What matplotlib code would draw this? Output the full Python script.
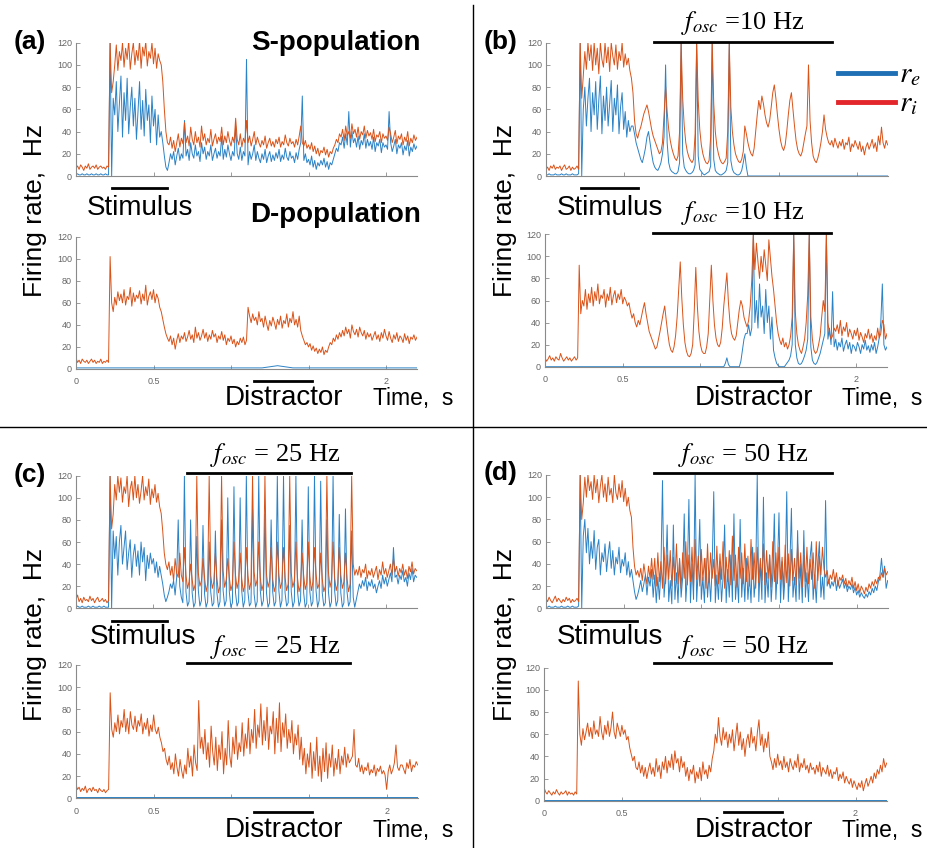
import numpy as np
import matplotlib.pyplot as plt
from matplotlib.lines import Line2D

plt.rcParams['font.family'] = ['Liberation Sans', 'DejaVu Sans']
plt.rcParams['mathtext.fontset'] = 'stix'

# ---- data: firing rates (Hz), sampled every 10 ms from t = 0 ----
DT = 0.01

a_top_re = [1, 2, 1, 1, 2, 1, 1, 2, 1, 1, 2, 1, 1, 2, 1, 1, 2, 1, 1, 2, 1, 1,
            120, 0, 70, 55, 85, 40, 65, 90,
            35, 75, 50, 88, 38, 62, 80, 45, 70, 33,
            58, 85, 42, 68, 36, 78, 50, 64, 30, 72,
            45, 60, 28, 55, 35, 40, 30, 18, 8, 5,
            12, 20, 15, 22, 10, 18, 25, 14, 20, 16,
            50, 18, 24, 14, 30, 20, 16, 28, 18, 22,
            13, 30, 20, 26, 15, 22, 18, 28, 14, 20,
            25, 16, 22, 18, 36, 15, 24, 17, 28, 20,
            14, 22, 18, 45, 20, 15, 26, 14, 22, 18,
            105, 10, 22, 15, 20, 28, 14, 22, 16, 12,
            20, 15, 24, 12, 18, 22, 13, 19, 14, 21,
            16, 24, 13, 19, 15, 25, 17, 14, 22, 16,
            18, 12, 21, 15, 24, 30, 72, 14, 20, 12,
            15, 10, 18, 8, 14, 6, 12, 9, 14, 10,
            16, 8, 13, 6, 12, 10, 15, 20, 25, 22,
            30, 28, 35, 25, 38, 28, 58, 26, 40, 30,
            34, 26, 36, 24, 32, 28, 38, 25, 33, 27,
            31, 24, 35, 22, 30, 27, 33, 21, 30, 26,
            28, 24, 58, 30, 22, 27, 33, 20, 28, 25,
            30, 19, 27, 23, 32, 18, 26, 22, 29, 24, 27]
a_top_ri = [7, 9, 6, 10, 8, 5, 9, 7, 11, 6, 8, 9, 7, 10, 6, 8, 9, 7, 8, 6, 9, 8,
            120, 75, 85, 100, 118, 95, 112, 104,
            120, 98, 115, 105, 122, 96, 110, 120, 100, 113,
            104, 122, 97, 116, 108, 121, 99, 112, 106, 120,
            101, 115, 97, 110, 104, 100, 85, 60, 40, 30,
            28, 35, 25, 32, 22, 30, 38, 26, 34, 29,
            48, 30, 36, 27, 44, 33, 28, 40, 30, 35,
            26, 45, 32, 38, 28, 34, 30, 42, 27, 33,
            38, 29, 35, 31, 44, 28, 36, 30, 40, 32,
            27, 35, 30, 52, 33, 28, 38, 26, 34, 30,
            50, 30, 36, 27, 33, 40, 28, 35, 30, 26,
            32, 28, 36, 25, 30, 34, 27, 31, 26, 33,
            29, 35, 26, 31, 28, 37, 30, 27, 34, 29,
            31, 26, 33, 28, 36, 45, 30, 27, 32, 25,
            28, 24, 30, 22, 27, 20, 25, 18, 23, 21,
            26, 19, 24, 17, 22, 20, 25, 28, 33, 30,
            38, 35, 42, 32, 45, 36, 40, 34, 47, 38,
            42, 35, 44, 33, 40, 37, 45, 34, 41, 36,
            39, 33, 42, 31, 37, 35, 40, 30, 38, 34,
            36, 32, 44, 38, 30, 35, 41, 29, 36, 33,
            38, 28, 35, 31, 40, 27, 34, 30, 37, 32, 35]
a_bot_re = [1, 1, 1, 1, 1, 1, 1, 1, 1, 1, 1, 1, 1, 3, 1, 1, 1, 1, 1, 1, 1, 1, 1]
a_bot_ri = [10, 6, 8, 5, 9, 7, 6, 8, 5, 7, 9, 6, 8, 5, 7, 6, 9, 5, 7, 6, 8, 6,
            102, 60, 52, 65, 58, 70, 62, 68,
            60, 72, 58, 66, 63, 74, 57, 69, 61, 67,
            64, 71, 59, 68, 62, 76, 58, 66, 70, 63,
            72, 60, 68, 64, 56, 52, 45, 38, 32, 28,
            25, 30, 22, 28, 18, 26, 32, 24, 30, 27,
            33, 25, 29, 35, 27, 31, 24, 38, 28, 33,
            26, 30, 36, 28, 33, 25, 31, 27, 35, 29,
            32, 24, 30, 27, 34, 26, 31, 22, 28, 25,
            30, 23, 27, 20, 25, 22, 28, 24, 29, 22,
            26, 56, 48, 42, 50, 44, 47, 40, 52, 43,
            46, 38, 48, 41, 35, 44, 39, 47, 42, 36,
            45, 40, 48, 37, 44, 41, 50, 38, 46, 42,
            52, 40, 45, 38, 48, 35, 30, 26, 22, 24,
            20, 23, 17, 21, 16, 19, 14, 18, 15, 20,
            13, 17, 15, 20, 24, 22, 28, 25, 31, 27,
            33, 29, 35, 30, 38, 32, 36, 28, 40, 34,
            31, 36, 29, 38, 33, 30, 35, 27, 33, 29,
            32, 26, 30, 34, 27, 31, 25, 33, 28, 36,
            30, 26, 34, 28, 24, 31, 27, 33, 25, 30,
            28, 24, 32, 26, 30, 23, 29, 27, 31, 26, 29]

b_top_re = [1, 1, 2, 1, 1, 1, 2, 1, 1, 1, 2, 1, 1, 2, 1, 1, 1, 2, 1, 1, 1, 2,
            120, 0, 60, 80, 45, 70, 88, 40,
            75, 55, 85, 42, 68, 90, 38, 72, 50, 80,
            45, 65, 86, 40, 70, 55, 82, 38, 62, 75,
            42, 58, 35, 50, 40, 45, 45, 38, 30, 25,
            20, 15, 12, 18, 25, 35, 40, 30, 20, 12,
            8, 6, 5, 8, 12, 20, 35, 100, 30, 12,
            6, 4, 3, 2, 2, 4, 12, 120, 20, 8,
            5, 3, 2, 2, 3, 5, 10, 120, 18, 6,
            4, 2, 1, 2, 3, 4, 9, 120, 15, 5,
            3, 2, 1, 1, 2, 3, 5, 12, 120, 14,
            6, 3, 2, 1, 1, 2, 5, 12, 20, 8,
            0, 0, 0, 0, 0, 0, 0, 0, 0, 0,
            0, 0, 0, 0, 0, 0, 0, 0, 0, 0,
            0, 0, 0, 0, 0, 0, 0, 0, 0, 0,
            0, 0, 0, 0, 0, 0, 0, 0, 0, 0,
            0, 0, 0, 0, 0, 0, 0, 0, 0, 0,
            0, 0, 0, 0, 0, 0, 0, 0, 0, 0,
            0, 0, 0, 0, 0, 0, 0, 0, 0, 0,
            0, 0, 0, 0, 0, 0, 0, 0, 0, 0,
            0, 0, 0, 0, 0, 0, 0, 0, 0, 0, 0]
b_top_ri = [6, 8, 5, 9, 7, 10, 6, 8, 7, 9, 5, 8, 10, 6, 7, 9, 5, 8, 6, 7, 9, 6,
            120, 70, 90, 112, 96, 120, 104, 118,
            95, 120, 100, 115, 92, 120, 105, 98, 120, 102,
            116, 94, 120, 108, 100, 118, 96, 112, 104, 120,
            98, 110, 100, 106, 95, 88, 75, 50, 38, 34,
            40, 44, 50, 56, 60, 64, 58, 50, 42, 36,
            32, 28, 24, 20, 22, 30, 55, 80, 58, 42,
            32, 25, 20, 16, 14, 18, 40, 120, 70, 45,
            30, 22, 17, 14, 12, 15, 38, 120, 68, 42,
            28, 20, 15, 12, 11, 14, 35, 120, 65, 40,
            27, 20, 15, 12, 11, 13, 16, 40, 120, 62,
            40, 28, 20, 16, 13, 12, 15, 22, 45, 38,
            30, 24, 20, 18, 25, 40, 55, 68, 60, 72,
            65, 55, 48, 44, 50, 62, 75, 82, 70, 55,
            42, 32, 26, 23, 28, 40, 55, 68, 75, 60,
            45, 32, 24, 20, 18, 22, 30, 38, 45, 100,
            50, 30, 18, 14, 12, 16, 22, 30, 40, 55,
            42, 35, 30, 28, 32, 26, 34, 29, 25, 31,
            27, 33, 24, 30, 28, 35, 22, 29, 26, 32,
            28, 24, 31, 22, 27, 19, 26, 30, 24, 28,
            33, 25, 30, 22, 36, 28, 44, 30, 25, 32, 28]
b_bot_re = [0, 0, 0, 0, 0, 0, 0, 0, 0, 0,
            0, 0, 0, 0, 0, 0, 0, 0, 0, 0,
            0, 0, 0, 0, 0, 0, 0, 0, 0, 0,
            0, 0, 0, 0, 0, 0, 0, 0, 0, 0,
            0, 0, 0, 0, 0, 0, 0, 0, 0, 0,
            0, 0, 0, 0, 0, 0, 0, 0, 0, 0,
            0, 0, 0, 0, 0, 0, 0, 0, 0, 0,
            0, 0, 0, 0, 0, 0, 0, 0, 0, 0,
            0, 0, 0, 0, 0, 0, 0, 0, 0, 0,
            0, 0, 0, 0, 0, 0, 0, 0, 0, 0,
            0, 0, 0, 0, 0, 0, 0, 0, 0, 0,
            0, 0, 0, 0, 0, 0, 3, 8, 2, 0,
            0, 0, 0, 0, 0, 0, 5, 15, 25, 30,
            30, 38, 28, 35, 120, 40, 60, 35, 75, 45,
            55, 30, 70, 40, 55, 25, 45, 15, 8, 3,
            1, 0, 0, 0, 0, 2, 4, 6, 10, 20,
            120, 20, 8, 3, 2, 3, 6, 10, 15, 25,
            120, 18, 6, 3, 2, 4, 8, 12, 18, 24,
            30, 120, 25, 35, 20, 68, 18, 25, 15, 22,
            18, 26, 14, 20, 24, 16, 22, 12, 20, 18,
            14, 22, 18, 12, 20, 16, 24, 15, 19, 13,
            20, 15, 22, 12, 18, 26, 40, 75, 20, 15, 18]
b_bot_ri = [8, 5, 7, 10, 6, 8, 5, 9, 7, 6, 12, 8, 5, 7, 9, 6, 8, 5, 7, 9, 6, 8,
            92, 48, 60, 55, 70, 52, 66, 58,
            72, 55, 68, 60, 75, 57, 65, 62, 70, 54,
            66, 60, 72, 56, 64, 69, 58, 66, 61, 70,
            57, 63, 60, 55, 58, 50, 44, 48, 40, 36,
            42, 38, 45, 52, 58, 48, 40, 32, 28, 24,
            20, 16, 18, 25, 32, 40, 48, 55, 42, 30,
            20, 15, 13, 18, 28, 45, 70, 95, 62, 38,
            22, 14, 10, 9, 12, 20, 50, 90, 55, 32,
            20, 14, 12, 12, 18, 30, 60, 92, 60, 38,
            26, 20, 18, 22, 35, 55, 70, 85, 58, 40,
            30, 26, 24, 28, 40, 52, 60, 55, 45, 40,
            36, 42, 55, 78, 120, 88, 112, 95, 80, 100,
            86, 106, 92, 78, 115, 98, 82, 70, 55, 40,
            30, 24, 20, 26, 18, 22, 16, 20, 28, 45,
            120, 50, 30, 20, 15, 12, 18, 25, 40, 65,
            120, 45, 25, 15, 12, 14, 20, 28, 45, 60,
            50, 120, 40, 30, 25, 28, 35, 32, 38, 30,
            42, 28, 36, 32, 40, 27, 34, 30, 25, 33,
            28, 35, 24, 31, 27, 22, 30, 26, 34, 25,
            30, 22, 28, 24, 35, 26, 30, 42, 38, 25, 30]

c_top_re = [1, 2, 1, 1, 2, 1, 1, 1, 2, 1, 1, 2, 1, 1, 1, 2, 1, 1, 2, 1, 1, 1,
            120, 0, 70, 45, 65, 30, 60, 75,
            40, 55, 70, 35, 50, 62, 28, 48, 58, 38,
            52, 30, 60, 42, 55, 25, 48, 36, 50, 40,
            45, 32, 42, 28, 38, 30, 22, 12, 6, 10,
            15, 22, 18, 25, 12, 28, 80, 20, 10, 5,
            120, 15, 2, 6, 80, 14, 1, 5, 65, 16,
            2, 7, 75, 13, 1, 6, 60, 15, 2, 5,
            70, 14, 1, 6, 80, 16, 2, 7, 100, 15,
            1, 5, 110, 14, 2, 6, 100, 16, 1, 7,
            120, 15, 2, 5, 90, 13, 1, 6, 120, 16,
            2, 7, 85, 14, 1, 5, 80, 15, 2, 6,
            120, 16, 1, 7, 120, 14, 2, 5, 75, 15,
            1, 6, 120, 16, 2, 7, 80, 14, 1, 5,
            110, 15, 2, 6, 120, 16, 1, 7, 115, 14,
            2, 5, 80, 15, 1, 6, 120, 16, 2, 7,
            85, 14, 1, 5, 90, 15, 2, 6, 70, 10,
            1, 8, 15, 22, 18, 25, 20, 28, 16, 24,
            20, 26, 18, 22, 14, 20, 25, 18, 30, 22,
            28, 20, 26, 32, 24, 55, 28, 30, 22, 30,
            26, 34, 24, 28, 20, 32, 26, 36, 24, 30, 28]
c_top_ri = [8, 12, 6, 9, 5, 10, 7, 8, 6, 11, 7, 9, 5, 8, 10, 6, 7, 9, 6, 8, 5, 7,
            120, 72, 85, 112, 98, 120, 105, 118,
            96, 110, 104, 120, 92, 108, 115, 98, 120, 100,
            112, 95, 106, 120, 98, 110, 102, 117, 94, 108,
            100, 112, 96, 104, 92, 86, 70, 50, 40, 35,
            42, 30, 38, 25, 45, 32, 28, 50, 30, 24,
            55, 30, 18, 24, 40, 26, 16, 22, 120, 32,
            20, 25, 45, 28, 15, 22, 120, 30, 18, 24,
            50, 27, 14, 20, 120, 34, 19, 26, 45, 28,
            16, 22, 60, 30, 18, 25, 50, 27, 15, 21,
            55, 30, 17, 24, 120, 33, 20, 26, 60, 28,
            16, 22, 120, 31, 19, 25, 55, 27, 15, 21,
            60, 30, 18, 24, 55, 28, 16, 22, 120, 32,
            19, 25, 60, 28, 15, 21, 50, 30, 17, 23,
            60, 29, 16, 24, 55, 31, 18, 22, 50, 27,
            15, 20, 120, 33, 19, 26, 60, 28, 16, 22,
            55, 30, 18, 24, 50, 27, 15, 22, 120, 40,
            30, 35, 30, 38, 28, 35, 32, 40, 27, 34,
            30, 36, 28, 33, 38, 26, 35, 30, 42, 31,
            36, 28, 34, 40, 30, 45, 33, 38, 29, 36,
            32, 40, 30, 35, 27, 38, 33, 42, 31, 36, 34]
c_bot_re = [1, 1, 1, 1, 1, 1, 1, 1, 1, 1, 1, 1, 1, 1, 1, 1, 1, 1, 1, 1, 1, 1, 1]
c_bot_ri = [12, 8, 10, 6, 9, 7, 11, 5, 8, 9, 6, 10, 7, 8, 5, 9, 7, 6, 8, 5, 7, 8,
            95, 62, 55, 68, 60, 75, 58, 70,
            64, 80, 60, 72, 58, 78, 66, 62, 74, 60,
            70, 65, 76, 58, 68, 62, 72, 56, 66, 60,
            75, 62, 58, 64, 55, 50, 42, 45, 35, 30,
            38, 26, 32, 22, 40, 28, 20, 35, 25, 18,
            30, 22, 45, 28, 38, 20, 48, 32, 25, 88,
            45, 55, 40, 62, 35, 50, 28, 65, 42, 30,
            55, 25, 48, 35, 60, 22, 45, 30, 70, 38,
            28, 55, 40, 65, 35, 50, 42, 68, 38, 58,
            45, 72, 40, 62, 50, 80, 45, 66, 55, 85,
            48, 70, 52, 82, 44, 65, 58, 78, 40, 72,
            50, 86, 42, 68, 55, 76, 45, 62, 50, 70,
            40, 58, 48, 66, 35, 55, 30, 45, 22, 40,
            28, 50, 18, 42, 25, 55, 20, 38, 15, 45,
            24, 50, 18, 40, 28, 48, 20, 36, 26, 44,
            22, 38, 30, 46, 28, 40, 32, 35, 38, 62,
            30, 28, 36, 24, 30, 22, 28, 25, 32, 21,
            26, 23, 30, 20, 27, 24, 29, 22, 25, 21,
            8, 24, 30, 22, 26, 32, 48, 28, 25, 30,
            30, 26, 22, 32, 27, 35, 24, 30, 28, 33, 30]

d_top_re = [1, 1, 2, 1, 1, 1, 2, 1, 1, 1, 2, 1, 1, 1, 2, 1, 1, 2, 1, 1, 1, 2,
            120, 0, 65, 80, 50, 72, 40, 60,
            45, 70, 35, 55, 62, 30, 50, 42, 58, 33,
            48, 60, 36, 52, 30, 46, 40, 55, 32, 44,
            38, 50, 30, 42, 28, 35, 25, 15, 8, 12,
            18, 25, 15, 22, 30, 12, 28, 20, 35, 10,
            30, 5, 28, 8, 35, 115, 10, 30, 75, 6,
            25, 4, 75, 8, 32, 5, 45, 10, 28, 85,
            6, 30, 98, 5, 40, 8, 120, 6, 35, 80,
            8, 28, 5, 45, 10, 32, 6, 38, 105, 5,
            30, 8, 42, 6, 28, 75, 5, 35, 10, 48,
            6, 85, 8, 30, 5, 80, 10, 36, 6, 45,
            8, 30, 5, 55, 10, 28, 120, 6, 40, 8,
            100, 5, 32, 10, 48, 6, 30, 85, 8, 36,
            86, 5, 42, 8, 30, 105, 6, 38, 90, 10,
            28, 6, 70, 8, 40, 5, 70, 10, 32, 6,
            45, 60, 8, 30, 5, 38, 60, 10, 28, 8,
            97, 20, 26, 18, 24, 20, 28, 16, 25, 18,
            22, 26, 18, 23, 15, 20, 17, 22, 14, 19,
            12, 16, 10, 14, 11, 9, 13, 10, 15, 12,
            18, 14, 20, 16, 24, 30, 45, 28, 38, 18, 25]
d_top_ri = [9, 6, 10, 7, 5, 8, 11, 6, 9, 7, 5, 8, 6, 10, 7, 9, 5, 8, 6, 7, 9, 6,
            120, 80, 95, 118, 100, 120, 106, 114,
            98, 120, 104, 116, 95, 110, 120, 100, 112, 96,
            118, 102, 108, 95, 120, 104, 98, 112, 100, 115,
            96, 108, 92, 100, 88, 82, 55, 38, 30, 34,
            28, 36, 25, 40, 30, 22, 38, 27, 45, 26,
            45, 20, 50, 24, 42, 18, 55, 22, 48, 26,
            52, 20, 46, 25, 58, 22, 44, 18, 50, 27,
            60, 21, 48, 24, 55, 19, 62, 26, 47, 20,
            53, 25, 45, 18, 58, 23, 50, 27, 44, 20,
            56, 22, 49, 26, 60, 18, 46, 24, 52, 21,
            65, 25, 48, 19, 55, 27, 50, 22, 58, 24,
            47, 20, 62, 26, 50, 18, 55, 23, 45, 25,
            58, 21, 52, 27, 48, 19, 60, 24, 50, 22,
            55, 26, 46, 18, 57, 23, 49, 20, 53, 25,
            45, 21, 58, 27, 50, 19, 48, 24, 55, 22,
            44, 26, 50, 18, 60, 25, 47, 30, 55, 35,
            28, 34, 22, 30, 26, 35, 24, 32, 20, 28,
            25, 30, 22, 27, 19, 25, 21, 28, 18, 24,
            16, 22, 14, 20, 17, 13, 19, 15, 22, 18,
            24, 20, 26, 22, 28, 25, 32, 28, 36, 30, 33]
d_bot_re = [1, 1, 1, 1, 1, 1, 1, 1, 1, 1, 1, 1, 1, 1, 1, 1, 1, 1, 1, 1, 1, 1, 1]
d_bot_ri = [12, 8, 6, 9, 7, 5, 8, 6, 10, 7, 5, 8, 6, 7, 9, 5, 8, 6, 7, 5, 8, 6,
            108, 60, 50, 65, 55, 62, 70, 58,
            66, 56, 72, 60, 64, 58, 76, 62, 55, 68,
            60, 72, 58, 66, 80, 62, 56, 70, 64, 58,
            68, 60, 64, 55, 58, 48, 42, 36, 40, 30,
            28, 35, 25, 32, 22, 30, 20, 28, 34, 24,
            30, 22, 38, 26, 32, 20, 35, 28, 40, 25,
            36, 30, 42, 28, 45, 34, 38, 26, 40, 30,
            35, 22, 30, 18, 28, 24, 32, 16, 26, 20,
            30, 18, 35, 24, 28, 20, 32, 26, 38, 45,
            60, 52, 75, 58, 50, 66, 55, 62, 48, 60,
            52, 64, 45, 58, 70, 50, 62, 46, 56, 40,
            54, 60, 48, 66, 52, 58, 45, 62, 73, 50,
            60, 44, 56, 48, 62, 40, 35, 28, 38, 30,
            42, 32, 36, 28, 40, 30, 35, 26, 38, 32,
            28, 36, 30, 42, 26, 34, 30, 38, 28, 32,
            25, 34, 28, 30, 24, 32, 26, 35, 22, 30,
            27, 24, 32, 22, 28, 20, 26, 24, 30, 18,
            24, 20, 26, 16, 22, 18, 15, 20, 12, 18,
            14, 10, 16, 12, 18, 9, 15, 20, 13, 17,
            22, 16, 25, 20, 28, 24, 32, 26, 38, 30, 34]

yticks = [0, 20, 40, 60, 80, 100, 120]
xticks = [0, 0.5, 1, 1.5, 2]
xticklabels = ['0', '0.5', '', '', '2']

BLUE = '#2b82c6'
ORANGE = '#d95319'
GREY = '#8a8a8a'

W, H = 927, 848
fig = plt.figure(figsize=(W / 100, H / 100), dpi=100)


def px_axes(l, t, r, b):
    return fig.add_axes([l / W, 1 - b / H, (r - l) / W, (b - t) / H])


def ftext(x, y, s, **kw):
    fig.text(x / W, 1 - y / H, s, **kw)


def hline(x0, x1, y, lw=2.0, color='k'):
    fig.add_artist(Line2D([x0 / W, x1 / W], [1 - y / H, 1 - y / H], color=color, lw=lw))


def trace_t(vals):
    if len(vals) < 50:
        return np.linspace(0, 2.2, len(vals))
    return np.arange(len(vals)) * DT


def panel(rect, re, ri, labels):
    ax = px_axes(*rect)
    ax.plot(trace_t(re), re, color=BLUE, lw=0.7)
    ax.plot(trace_t(ri), ri, color=ORANGE, lw=0.7)
    ax.set_xlim(0, 2.2)
    ax.set_ylim(0, 120)
    ax.set_yticks(yticks)
    ax.set_xticks(xticks)
    ax.set_xticklabels(xticklabels if labels else [])
    for s in ['top', 'right']:
        ax.spines[s].set_visible(False)
    for s in ['left', 'bottom']:
        ax.spines[s].set_color(GREY)
        ax.spines[s].set_linewidth(0.8)
    ax.tick_params(direction='in', length=3, width=0.6, color=GREY,
                   labelsize=6.5, labelcolor='#666666')
    ax.tick_params(axis='y', pad=3)
    ax.tick_params(axis='x', pad=6)
    return ax


panel((76, 42.7, 417, 176), a_top_re, a_top_ri, False)
panel((76, 236.7, 417, 369), a_bot_re, a_bot_ri, True)
panel((546, 42.7, 887.7, 176), b_top_re, b_top_ri, False)
panel((545, 234.3, 887, 366.7), b_bot_re, b_bot_ri, True)
panel((76, 475.7, 416.7, 608.3), c_top_re, c_top_ri, False)
panel((76, 665, 417.7, 798.3), c_bot_re, c_bot_ri, True)
panel((546, 475, 887.7, 608.3), d_top_re, d_top_ri, False)
panel((544, 667.7, 886.7, 800.7), d_bot_re, d_bot_ri, True)

# quadrant dividers
fig.add_artist(Line2D([472.7 / W, 472.7 / W], [1 - 5 / H, 0], color='k', lw=1))
hline(0, W, 426.7, lw=1)

# panel letters
for lab, x, y in [('(a)', 30, 42), ('(b)', 501, 42), ('(c)', 30, 475), ('(d)', 501, 473)]:
    ftext(x, y, lab, fontsize=19, fontweight='bold', ha='center', va='center')

ftext(336, 43, 'S-population', fontsize=20, fontweight='bold', ha='center', va='center')
ftext(336, 215, 'D-population', fontsize=20, fontweight='bold', ha='center', va='center')

# y labels
for x, y in [(35, 210), (505, 210), (35, 634), (505, 634)]:
    ftext(x, y, 'Firing rate,  Hz', fontsize=19, rotation=90, ha='center', va='center')

# stimulus
for xc, y, x0, x1, yb in [(140, 208, 111.7, 167, 188), (610, 208, 581, 637.7, 188.3),
                          (143, 637, 111.7, 167.3, 620.7), (610, 637, 581, 636.7, 620.7)]:
    ftext(xc, y, 'Stimulus', fontsize=20, ha='center', va='center')
    hline(x0, x1, yb)

# distractor + time label
for xc, y, x0, x1, yb, xt in [(284, 398, 254, 312, 381, 413), (754, 398, 723, 781.7, 381, 882),
                              (284, 830, 254, 311.7, 811.7, 413), (754, 830, 724, 781.7, 811.7, 882)]:
    ftext(xc, y, 'Distractor', fontsize=20, ha='center', va='center')
    hline(x0, x1, yb)
    ftext(xt, y + 1, 'Time,  s', fontsize=16.5, ha='center', va='center')

# oscillation labels
osc = [(743, 29, r'$f_{osc}$ =10 Hz', 654, 831.7, 41.7),
       (743, 219, r'$f_{osc}$ =10 Hz', 653, 830.7, 233.3),
       (275, 461, r'$f_{osc}$ = 25 Hz', 186.7, 351, 473.3),
       (275, 653, r'$f_{osc}$ = 25 Hz', 186.7, 350, 663.3),
       (743, 461, r'$f_{osc}$ = 50 Hz', 654.3, 831.7, 473.3),
       (743, 653, r'$f_{osc}$ = 50 Hz', 654.3, 830.7, 663.3)]
for xc, yb, s, x0, x1, ybar in osc:
    ftext(xc, yb, s, fontsize=19, family=['Liberation Serif', 'DejaVu Serif'],
          ha='center', va='baseline')
    hline(x0, x1, ybar)

# legend
hline(838, 895, 73.3, lw=3.5, color='#1f6fb5')
hline(838, 895, 102.3, lw=3.5, color='#e3262b')
ftext(899, 74, r'$r_e$', fontsize=21, ha='left', va='center')
ftext(899, 103, r'$r_i$', fontsize=21, ha='left', va='center')

fig.savefig('out.png', dpi=100)
